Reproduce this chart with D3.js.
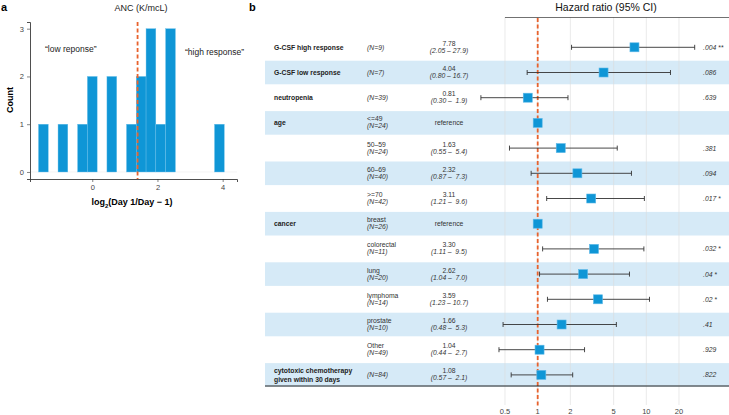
<!DOCTYPE html>
<html>
<head>
<meta charset="utf-8">
<script src="https://cdn.jsdelivr.net/npm/d3@7"></script>
<style>
  body { margin: 0; background: #fff; }
  svg { font-family: "Liberation Sans", Arial, sans-serif; }
  text { white-space: pre; }
</style>
</head>
<body>
<div id="chart"></div>
<script>
// ---- panel a: histogram ----
binCenters = [-1.5, -0.9, -0.3, 0, 0.6, 1.2, 1.5, 1.8, 2.1, 2.4, 3.9];
binCounts  = [1, 1, 1, 2, 2, 1, 2, 3, 1, 3, 1];
binWidth = 0.3;
cutoff = 1.39;
histTicksX = [0, 2, 4];
histTicksY = [0, 1, 2, 3];

// ---- panel b: forest plot ----
rowLabels = ['G-CSF high response','G-CSF low response','neutropenia','age','','','','cancer','','','','','','cytotoxic chemotherapy|given within 30 days'];
subLabels = ['','','','<=49','50\u201359','60\u201369','>=70','breast','colorectal','lung','lymphoma','prostate','Other',''];
nValues   = [9,7,39,24,24,40,42,26,11,20,14,10,49,84];
hrValues  = [7.78,4.04,0.81,1,1.63,2.32,3.11,1,3.30,2.62,3.59,1.66,1.04,1.08];
ciLow     = [2.05,0.80,0.30,null,0.55,0.87,1.21,null,1.11,1.04,1.23,0.48,0.44,0.57];
ciHigh    = [27.9,16.7,1.9,null,5.4,7.3,9.6,null,9.5,7.0,10.7,5.3,2.7,2.1];
pValues   = ['.004 **','.086','.639','','.381','.094','.017 *','','.032 *','.04 *','.02 *','.41','.929','.822'];
hrTicks   = [0.5, 1, 2, 5, 10, 20];

const blue = '#0f96d6';
const orange = '#e8622d';
const band = '#d6eaf7';

let svg = d3.select('#chart').append('svg')
    .attr('width', 729)
    .attr('height', 415);

svg.append('rect').attr('width', 729).attr('height', 415).attr('fill', '#fff');

//----- panel a -----
svg.append('text').text('a').attr('x', 1).attr('y', 11)
    .attr('font-size', 11).attr('font-weight', 'bold');
svg.append('text').text('ANC (K/mcL)').attr('x', 141).attr('y', 11)
    .attr('font-size', 9).attr('text-anchor', 'middle').attr('fill', '#222');

let xA = d3.scaleLinear().domain([-1.91, 4.44]).range([30, 237]);
let yA = d3.scaleLinear().domain([-0.147, 3.14]).range([179, 22]);

let histG = svg.append('g');

// faint zero line
histG.append('line')
    .attr('x1', 30).attr('x2', 237)
    .attr('y1', yA(0)).attr('y2', yA(0))
    .attr('stroke', '#ececec').attr('stroke-width', 0.6);

histG.selectAll('rect.bin')
    .data(binCenters)
    .enter().append('rect')
        .attr('class', 'bin')
        .attr('x', d => xA(d - binWidth / 2))
        .attr('width', d => xA(d + binWidth / 2) - xA(d - binWidth / 2))
        .attr('y', (d, i) => yA(binCounts[i]))
        .attr('height', (d, i) => yA(0) - yA(binCounts[i]))
        .attr('fill', blue)
        .attr('stroke', '#6cc0ea')
        .attr('stroke-width', 0.4);

histG.append('line')
    .attr('x1', xA(cutoff)).attr('x2', xA(cutoff))
    .attr('y1', 22).attr('y2', 179)
    .attr('stroke', orange).attr('stroke-width', 1.8)
    .attr('stroke-dasharray', '4,2.5');

let xAxisA = d3.axisBottom(xA).tickValues(histTicksX).tickFormat(d3.format('d')).tickSize(3).tickPadding(3);
let yAxisA = d3.axisLeft(yA).tickValues(histTicksY).tickFormat(d3.format('d')).tickSize(3).tickPadding(3);

histG.append('g').attr('transform', 'translate(0,179)').call(xAxisA);
histG.append('g').attr('transform', 'translate(30,0)').call(yAxisA);
histG.selectAll('.domain').attr('stroke', '#222').attr('stroke-width', 0.8);
histG.selectAll('.tick line').attr('stroke', '#333').attr('stroke-width', 0.6);
histG.selectAll('.tick text').attr('font-size', 7.5).attr('fill', '#444')
    .attr('font-family', '"Liberation Sans", Arial, sans-serif');

histG.append('text').text('\u201clow reponse\u201d').attr('x', 45).attr('y', 52)
    .attr('font-size', 8.5).attr('fill', '#222');
histG.append('text').text('\u201chigh response\u201d').attr('x', 185).attr('y', 55)
    .attr('font-size', 8.5).attr('fill', '#222');

histG.append('text').text('Count')
    .attr('transform', 'translate(13,100) rotate(-90)')
    .attr('text-anchor', 'middle').attr('font-size', 9).attr('font-weight', 'bold');

let xl = histG.append('text').attr('x', 132).attr('y', 205)
    .attr('text-anchor', 'middle').attr('font-size', 9).attr('font-weight', 'bold');
xl.append('tspan').text('log');
xl.append('tspan').text('2').attr('font-size', 6).attr('dy', 2.5);
xl.append('tspan').text('(Day 1/Day \u2212 1)').attr('dy', -2.5);

//----- panel b -----
svg.append('text').text('b').attr('x', 249).attr('y', 11)
    .attr('font-size', 11).attr('font-weight', 'bold');

let rows = d3.scaleBand().domain(d3.range(rowLabels.length)).range([34.7, 387.5]);
let xB = d3.scaleLog().domain([0.5, 20]).range([505, 679]);
let cy = i => rows(i) + rows.bandwidth() / 2;

let forest = svg.append('g');

forest.selectAll('rect.band')
    .data(d3.range(rowLabels.length).filter(i => i % 2 === 1))
    .enter().append('rect')
        .attr('class', 'band')
        .attr('x', 265).attr('width', 464)
        .attr('y', i => cy(i) - 11.8)
        .attr('height', 23.6)
        .attr('fill', band);

// grid
forest.selectAll('line.grid')
    .data(hrTicks)
    .enter().append('line')
        .attr('class', 'grid')
        .attr('x1', d => xB(d)).attr('x2', d => xB(d))
        .attr('y1', 17).attr('y2', 405)
        .attr('stroke', '#dcdcdc').attr('stroke-width', 0.6);

forest.selectAll('text.tick')
    .data(hrTicks)
    .enter().append('text')
        .attr('class', 'tick')
        .attr('x', d => xB(d)).attr('y', 414)
        .attr('text-anchor', 'middle').attr('font-size', 7.5).attr('fill', '#444')
        .text(d => d);

// header
forest.append('text').text('Hazard ratio (95% CI)').attr('x', 606).attr('y', 11)
    .attr('text-anchor', 'middle').attr('font-size', 10.5).attr('fill', '#111');
forest.append('line').attr('x1', 505).attr('x2', 729).attr('y1', 17.5).attr('y2', 17.5)
    .attr('stroke', '#333').attr('stroke-width', 0.7);

forest.append('line')
    .attr('x1', xB(1)).attr('x2', xB(1))
    .attr('y1', 18).attr('y2', 406)
    .attr('stroke', orange).attr('stroke-width', 1.8)
    .attr('stroke-dasharray', '4,2.5');

// labels
rowLabels.forEach((lab, i) => {
    if (!lab) return;
    let parts = lab.split('|');
    parts.forEach((p, k) => {
        forest.append('text').text(p)
            .attr('x', 274)
            .attr('y', cy(i) + 2.5 + (k - (parts.length - 1) / 2) * 8.5)
            .attr('font-size', 6.8).attr('font-weight', 'bold').attr('fill', '#222');
    });
});

nValues.forEach((n, i) => {
    if (subLabels[i]) {
        forest.append('text').text(subLabels[i])
            .attr('x', 367).attr('y', cy(i) - 1.5)
            .attr('font-size', 6.8).attr('fill', '#333');
        forest.append('text').text('(N=' + n + ')')
            .attr('x', 367).attr('y', cy(i) + 5.5)
            .attr('font-size', 6.8).attr('font-style', 'italic').attr('fill', '#333');
    } else {
        forest.append('text').text('(N=' + n + ')')
            .attr('x', 367).attr('y', cy(i) + 2.5)
            .attr('font-size', 6.8).attr('font-style', 'italic').attr('fill', '#333');
    }
});

hrValues.forEach((hr, i) => {
    if (ciLow[i] == null) {
        forest.append('text').text('reference')
            .attr('x', 449).attr('y', cy(i) + 2.5).attr('text-anchor', 'middle')
            .attr('font-size', 6.8).attr('fill', '#333');
        return;
    }
    forest.append('text').text(hr.toFixed(2))
        .attr('x', 449).attr('y', cy(i) - 1.5).attr('text-anchor', 'middle')
        .attr('font-size', 6.8).attr('fill', '#333');
    forest.append('text').text('(' + ciLow[i].toFixed(2) + ' \u2013' + (ciHigh[i] < 10 ? '  ' : ' ') + ciHigh[i].toFixed(1) + ')')
        .attr('x', 449).attr('y', cy(i) + 5.5).attr('text-anchor', 'middle')
        .attr('font-size', 6.8).attr('font-style', 'italic').attr('fill', '#333');
});

// whiskers
let ci = d3.range(hrValues.length).filter(i => ciLow[i] != null);
forest.selectAll('line.ci')
    .data(ci)
    .enter().append('line')
        .attr('class', 'ci')
        .attr('x1', i => xB(ciLow[i])).attr('x2', i => xB(ciHigh[i]))
        .attr('y1', i => cy(i)).attr('y2', i => cy(i))
        .attr('stroke', '#333').attr('stroke-width', 0.9);
['lo', 'hi'].forEach(side => {
    forest.selectAll('line.cap' + side)
        .data(ci)
        .enter().append('line')
            .attr('x1', i => xB(side === 'lo' ? ciLow[i] : ciHigh[i]))
            .attr('x2', i => xB(side === 'lo' ? ciLow[i] : ciHigh[i]))
            .attr('y1', i => cy(i) - 2.5).attr('y2', i => cy(i) + 2.5)
            .attr('stroke', '#333').attr('stroke-width', 0.9);
});

forest.selectAll('rect.pt')
    .data(hrValues)
    .enter().append('rect')
        .attr('class', 'pt')
        .attr('x', d => xB(d) - 4.5).attr('y', (d, i) => cy(i) - 4.5)
        .attr('width', 9).attr('height', 9)
        .attr('fill', blue).attr('stroke', '#5cb8e8').attr('stroke-width', 0.6);

forest.selectAll('text.p')
    .data(pValues)
    .enter().append('text')
        .attr('class', 'p')
        .attr('x', 703).attr('y', (d, i) => cy(i) + 2.5)
        .attr('font-size', 6.8).attr('font-style', 'italic').attr('fill', '#333')
        .text(d => d);

forest.append('line').attr('x1', 265).attr('x2', 729).attr('y1', 386).attr('y2', 386)
    .attr('stroke', '#222').attr('stroke-width', 1);
</script>
</body>
</html>
